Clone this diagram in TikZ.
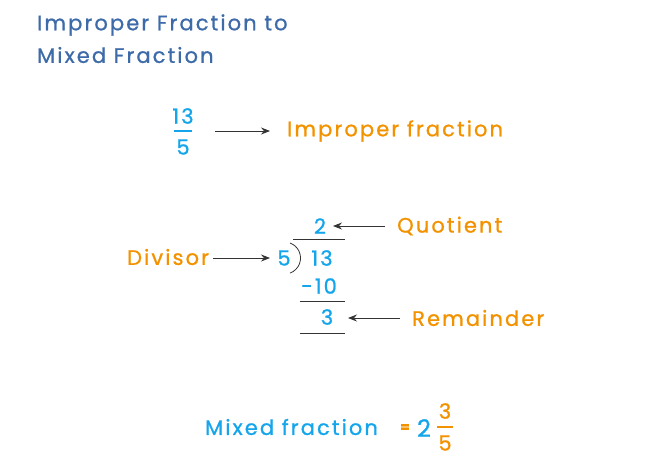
\documentclass[tikz,border=0pt]{standalone}
\usepackage{fontspec}
\setmainfont{Poppins}[LetterSpace=10,FakeBold=0.9]
\usetikzlibrary{arrows.meta}
\definecolor{ttl}{HTML}{3D6AA8}
\definecolor{cy}{HTML}{14A5EA}
\definecolor{org}{HTML}{F39200}
\definecolor{ar}{HTML}{333333}
\tikzset{
 t/.style={text=ttl,font=\fontsize{21}{24}\selectfont,anchor=west,inner sep=0},
 c/.style={text=cy,font=\fontsize{21}{24}\selectfont,inner sep=0},
 o/.style={text=org,font=\fontsize{21}{24}\selectfont,inner sep=0},
 arr/.style={ar,line width=0.8pt,-{Stealth[length=9pt,width=7pt,inset=3pt]}},
 rule/.style={ar,line width=0.8pt}
}
\begin{document}
\begin{tikzpicture}[x=1pt,y=-1pt]
\useasboundingbox (0,0) rectangle (667,472);
\node[t] (t1) at (37,25) {Improper Fraction to};
\node[t] (t2) at (37,55) {Mixed Fraction};
% 13/5
\node[c] (n1) at (183,116) {13};
\node[c] (d1) at (183,147) {5};
\draw[cy,line width=1.2pt] (174,131) -- (192,131);
\coordinate (a1s) at (215,131);
\coordinate (a1e) at (270,131);
\node[o,anchor=west] (imp) at (287,131) {Improper fraction};
\draw[arr] (a1s) -- (a1e);
% division
\node[c] (q) at (320,226) {2};
\node[o,anchor=west] (quo) at (397,226) {Quotient};
\draw[arr] (385,226) -- (333,226);
\draw[rule] (293,239) -- (345,239);
\node[o,anchor=west] (div) at (127,257) {Divisor};
\node[c] (five) at (284,258) {5};
\draw[arr] (213,258) -- (270,258);
\draw[ar,line width=0.8pt] (290,243) arc[start angle=-70,end angle=70,radius=16];
\node[c] (ts) at (322,258) {13};
\node[c] (ten) at (319,286) {-10};
\draw[rule] (300,301) -- (345,301);
\node[c] (r) at (327,317) {3};
\node[o,anchor=west] (rem) at (412,318) {Remainder};
\draw[arr] (400,318) -- (348,318);
\draw[rule] (300,333) -- (345,333);
% mixed
\node[c,anchor=west] (mf) at (205,427) {Mixed fraction};
\node[o,font=\fontsize{14}{16}\selectfont\bfseries] (eq) at (405,428) {=};
\node[c,font=\fontsize{24}{28}\selectfont] (w) at (424,428) {2};
\node[o] (n3) at (445,411) {3};
\node[o] (d3) at (445,443) {5};
\draw[org,line width=1.2pt] (437,427) -- (453,427);
\end{tikzpicture}
\end{document}
